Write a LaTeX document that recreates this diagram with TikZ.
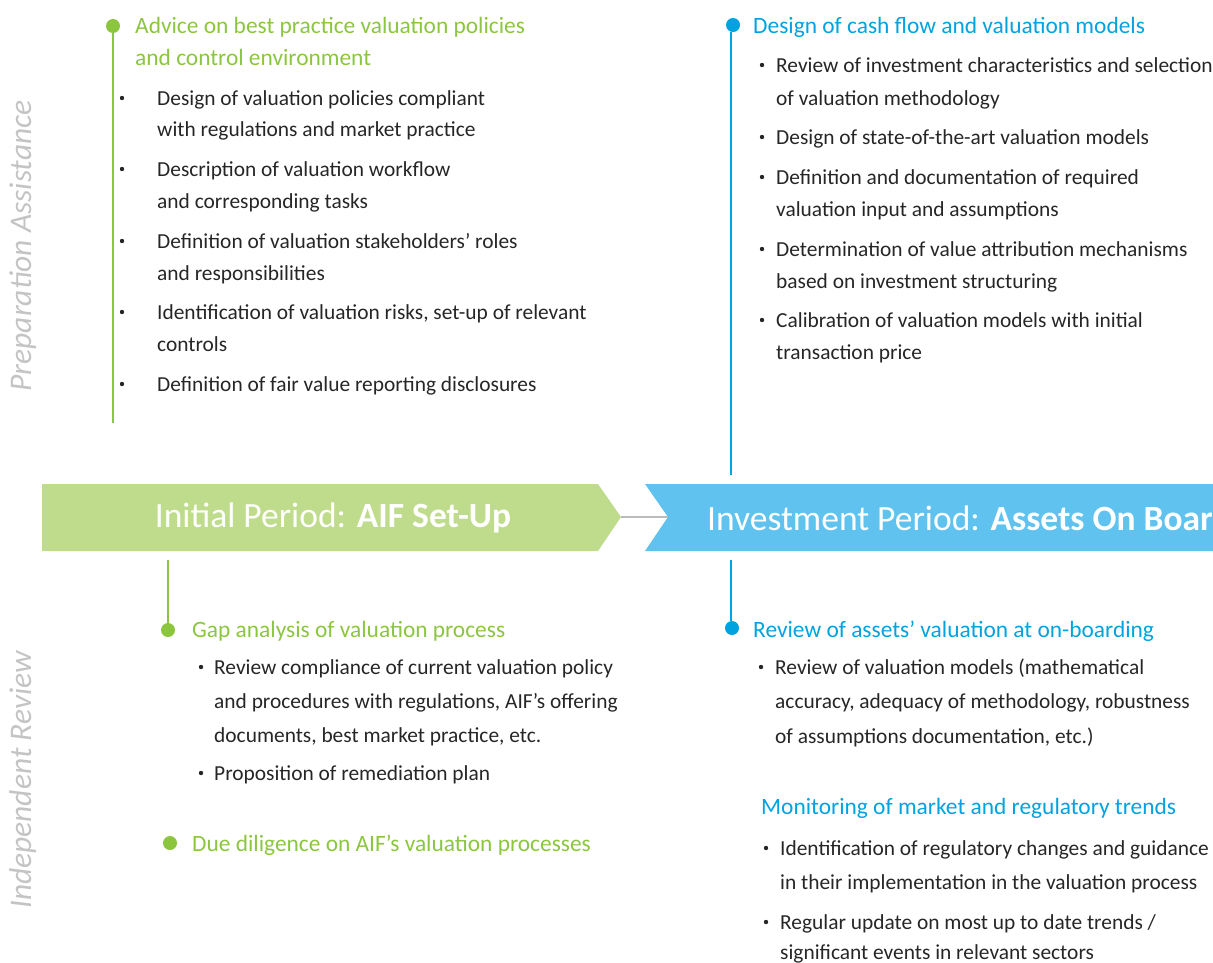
\documentclass[tikz,border=0pt]{standalone}
\usepackage{fontspec}
\setmainfont{Carlito}
\definecolor{gtext}{HTML}{8CC63F}
\definecolor{btext}{HTML}{00A3E0}
\definecolor{gban}{HTML}{BEDC8C}
\definecolor{bban}{HTML}{60C2EE}
\definecolor{bodyc}{HTML}{262626}
\definecolor{sidec}{HTML}{C4C4C4}
\definecolor{linkc}{HTML}{BBBBBB}
\newcommand{\bodyfont}{\fontsize{21.4}{24}\selectfont}
\newcommand{\headfont}{\fontsize{23.4}{26}\selectfont}
\newcommand{\banfont}{\fontsize{35.5}{40}\selectfont}
\newcommand{\sidefont}{\fontsize{31.5}{34}\selectfont\itshape}
\begin{document}
\begin{tikzpicture}[x=1pt,y=-1pt,
  body/.style={anchor=base west, inner sep=0pt, font=\bodyfont, text=bodyc},
  ghead/.style={anchor=base west, inner sep=0pt, font=\headfont, text=gtext},
  bhead/.style={anchor=base west, inner sep=0pt, font=\headfont, text=btext},
  bul/.style={circle, fill=bodyc, inner sep=0pt, minimum size=4.4pt},
  gdot/.style={circle, fill=gtext, inner sep=0pt, minimum size=14pt},
  bdot/.style={circle, fill=btext, inner sep=0pt, minimum size=14pt},
  gline/.style={draw=gtext, line width=2.8pt},
  bline/.style={draw=btext, line width=2.8pt},
  side/.style={font=\sidefont, text=sidec, rotate=90, inner sep=0pt},
  bantext/.style={font=\banfont, text=white, inner sep=0pt}]
\useasboundingbox (0,0) rectangle (1213,962);
\begin{scope}
\clip (0,0) rectangle (1213,962);
% side labels
\node[side] (sideA) at (23,246) {Preparation Assistance};
\node[side] (sideB) at (23,780) {Independent Review};

% ---------- top left
\node[gdot] (gd1) at (113,26) {};
\coordinate (gl1end) at (113,423);
\draw[gline] (gd1.south) -- (gl1end);
\node[ghead] (h1a) at (135,33) {Advice on best practice valuation policies};
\node[ghead] (h1b) at (135,65) {and control environment};
\node[bul] (tb1) at (122,98) {};
\node[body] (t1a) at (157,105) {Design of valuation policies compliant};
\node[body] (t1b) at (157,136) {with regulations and market practice};
\node[bul] (tb2) at (122,169) {};
\node[body] (t2a) at (157,176) {Description of valuation workflow};
\node[body] (t2b) at (157,208) {and corresponding tasks};
\node[bul] (tb3) at (122,241) {};
\node[body] (t3a) at (157,248) {Definition of valuation stakeholders’ roles};
\node[body] (t3b) at (157,280) {and responsibilities};
\node[bul] (tb4) at (122,312) {};
\node[body] (t4a) at (157,319) {Identification of valuation risks, set-up of relevant};
\node[body] (t4b) at (157,351) {controls};
\node[bul] (tb5) at (122,384) {};
\node[body] (t5a) at (157,391) {Definition of fair value reporting disclosures};

% ---------- top right
\node[bdot] (bd1) at (733,25) {};
\coordinate (bl1end) at (731,475);
\draw[bline] (bd1.south -| bl1end) -- (bl1end);
\node[bhead] (h2a) at (753,33) {Design of cash flow and valuation models};
\node[bul] (rb1) at (762,65) {};
\node[body] (r1a) at (776,72) {Review of investment characteristics and selection};
\node[body] (r1b) at (776,105) {of valuation methodology};
\node[bul] (rb2) at (762,137) {};
\node[body] (r2a) at (776,144) {Design of state-of-the-art valuation models};
\node[bul] (rb3) at (762,177) {};
\node[body] (r3a) at (776,184) {Definition and documentation of required};
\node[body] (r3b) at (776,216) {valuation input and assumptions};
\node[bul] (rb4) at (762,249) {};
\node[body] (r4a) at (776,256) {Determination of value attribution mechanisms};
\node[body] (r4b) at (776,288) {based on investment structuring};
\node[bul] (rb5) at (762,320) {};
\node[body] (r5a) at (776,327) {Calibration of valuation models with initial};
\node[body] (r5b) at (776,359) {transaction price};

% ---------- banners
\fill[gban] (42,484) -- (598,484) -- (621,517) -- (598,551) -- (42,551) -- cycle;
\fill[bban] (645,484) -- (1220,484) -- (1220,551) -- (645,551) -- (668,517) -- cycle;
\coordinate (gtip) at (621,517);
\coordinate (bnotch) at (668,517);
\draw[draw=linkc, line width=2.5pt] (gtip) -- (bnotch);
\node[bantext] (ban1) at (333,518) {Initial Period: \textbf{AIF Set-Up}};
\node[bantext, anchor=west] (ban2) at (707,518) {Investment Period: \textbf{Assets On Board}};

% ---------- bottom left
\coordinate (gl2top) at (168,560);
\node[gdot] (gd2) at (168,630) {};
\draw[gline] (gl2top) -- (gd2.north);
\node[ghead] (h3a) at (192,637) {Gap analysis of valuation process};
\node[bul] (lb1) at (201,667) {};
\node[body] (l1a) at (214,674) {Review compliance of current valuation policy};
\node[body] (l1b) at (214,708) {and procedures with regulations, AIF’s offering};
\node[body] (l1c) at (214,742) {documents, best market practice, etc.};
\node[bul] (lb2) at (201,773) {};
\node[body] (l2a) at (214,780) {Proposition of remediation plan};
\node[gdot] (gd3) at (170,843) {};
\node[ghead] (h4a) at (192,851) {Due diligence on AIF’s valuation processes};

% ---------- bottom right
\coordinate (bl2top) at (731,560);
\node[bdot] (bd2) at (732,628) {};
\draw[bline] (bl2top) -- (bl2top |- bd2.north);
\node[bhead] (h5a) at (753,637) {Review of assets’ valuation at on-boarding};
\node[bul] (qb1) at (761,667) {};
\node[body] (q1a) at (775,674) {Review of valuation models (mathematical};
\node[body] (q1b) at (775,708) {accuracy, adequacy of methodology, robustness};
\node[body] (q1c) at (775,743) {of assumptions documentation, etc.)};
\node[bhead] (h6a) at (761,814) {Monitoring of market and regulatory trends};
\node[bul] (qb2) at (766,848) {};
\node[body] (q2a) at (780,855) {Identification of regulatory changes and guidance};
\node[body] (q2b) at (780,889) {in their implementation in the valuation process};
\node[bul] (qb3) at (766,922) {};
\node[body] (q3a) at (780,929) {Regular update on most up to date trends /};
\node[body] (q3b) at (780,959) {significant events in relevant sectors};
\end{scope}
\end{tikzpicture}
\end{document}
